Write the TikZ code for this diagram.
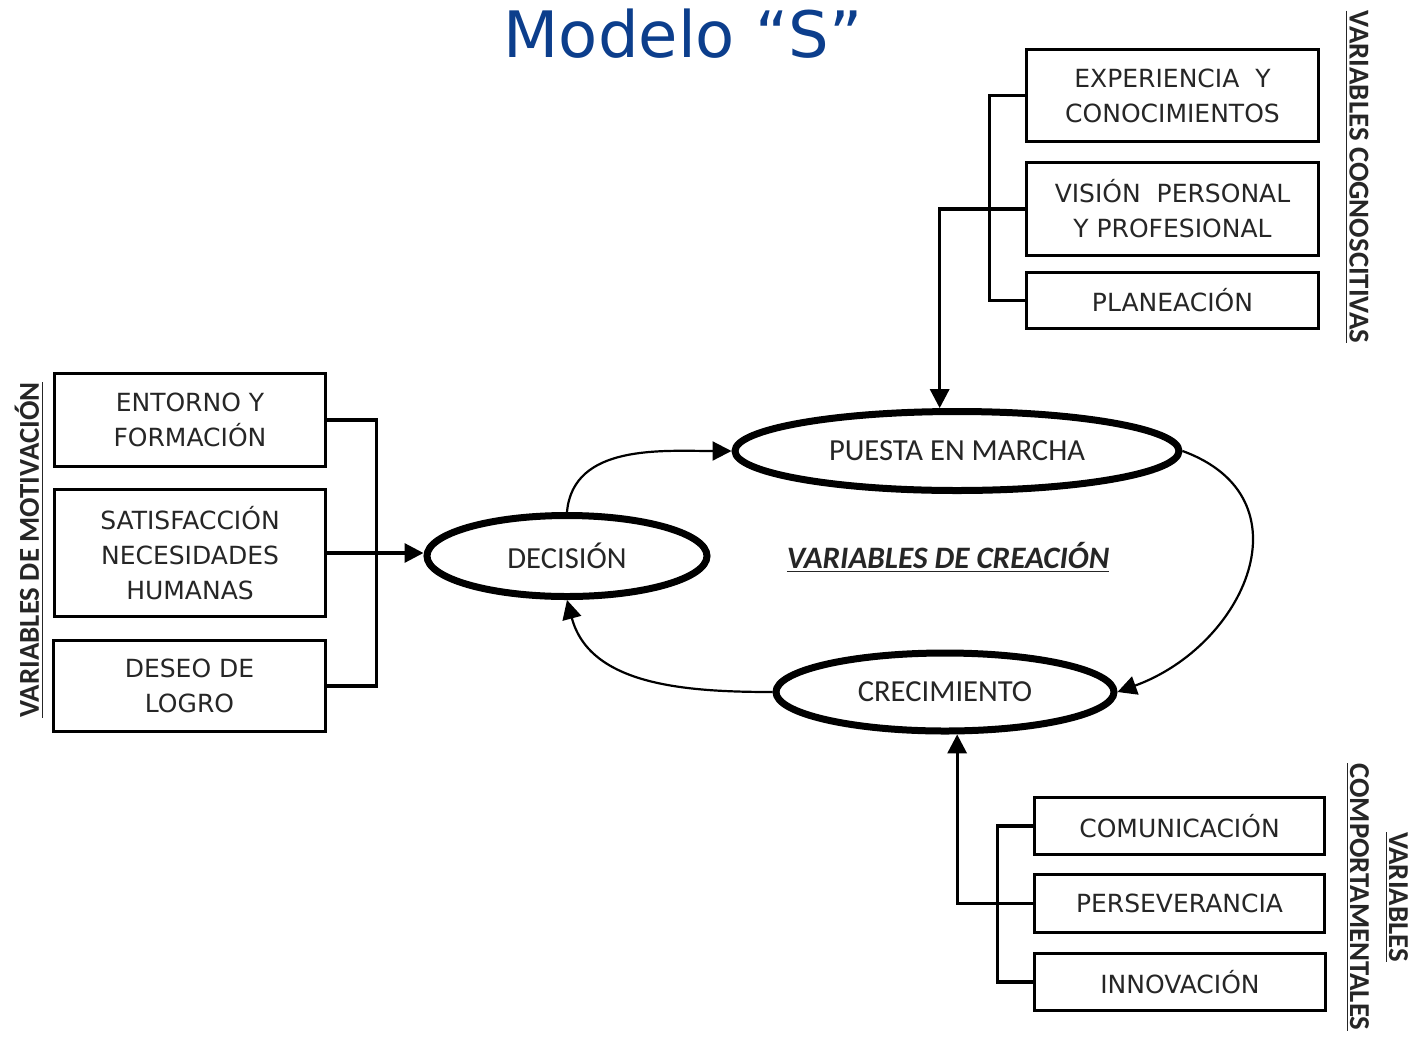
\documentclass[tikz,border=0pt]{standalone}
\usepackage{fontspec}
\setmainfont{DejaVu Sans}
\newfontfamily\calfont{Carlito}
\usetikzlibrary{shapes.geometric,arrows.meta}
\definecolor{titleblue}{RGB}{12,62,140}

\begin{document}
\begin{tikzpicture}[x=0.5pt,y=0.5pt,
    bnode/.style={draw,line width=1.8pt,fill=white,align=center,text=black!85,inner sep=2pt,
      font=\fontsize{12.5pt}{17.5pt}\selectfont},
    enode/.style={draw,ellipse,line width=3.5pt,inner sep=0pt,text=black!85,
      font=\calfont\fontsize{15.3pt}{18pt}\selectfont},
    vlabel/.style={font=\calfont\bfseries\fontsize{14.4pt}{19.5pt}\selectfont,align=center,text=black!85},
    link/.style={line width=1.6pt},
    flow/.style={line width=1.1pt},
    arr/.style={-{Triangle[length=9.5pt,width=9.5pt]}}]
    \useasboundingbox (0,0) rectangle (1415,-1040);

    \node[font=\fontsize{32pt}{32pt}\selectfont,text=titleblue,anchor=base] (title) at (683,-57) {Modelo “S”};

    \node[bnode,minimum width=146pt,minimum height=46pt] (exp) at (1172.5,-95.5) {EXPERIENCIA\ \ Y\\CONOCIMIENTOS};
    \node[bnode,minimum width=146pt,minimum height=46.5pt] (vis) at (1172.5,-209) {VISIÓN\ \ PERSONAL\\Y PROFESIONAL};
    \node[bnode,minimum width=146pt,minimum height=28pt] (pla) at (1172.5,-300.5) {PLANEACIÓN};

    \node[bnode,minimum width=135.5pt,minimum height=46.5pt] (ent) at (190,-420) {ENTORNO Y\\FORMACIÓN};
    \node[bnode,minimum width=135.5pt,minimum height=63.5pt] (sat) at (190,-553) {SATISFACCIÓN\\NECESIDADES\\HUMANAS};
    \node[bnode,minimum width=136pt,minimum height=45.5pt] (des) at (189.5,-686) {DESEO DE\\LOGRO};

    \node[bnode,minimum width=145pt,minimum height=28.5pt] (com) at (1179.5,-826) {COMUNICACIÓN};
    \node[bnode,minimum width=145pt,minimum height=29pt] (per) at (1179.5,-903.5) {PERSEVERANCIA};
    \node[bnode,minimum width=145.5pt,minimum height=28.5pt] (inn) at (1180,-982) {INNOVACIÓN};

    \node[enode,minimum width=140pt,minimum height=40.5pt] (dec) at (567,-556) {DECISIÓN};
    \node[enode,minimum width=222pt,minimum height=39.5pt] (pm) at (957,-451) {PUESTA EN MARCHA};
    \node[enode,minimum width=169pt,minimum height=39pt] (cr) at (945,-692) {CRECIMIENTO};

    \node[font=\calfont\bfseries\itshape\fontsize{15.6pt}{18pt}\selectfont,text=black!85] (crea) at (948,-557) {\underline{VARIABLES DE CREACIÓN}};

    \node[vlabel,rotate=90] (mot) at (29,-550) {\underline{VARIABLES DE MOTIVACIÓN}};
    \node[vlabel,rotate=-90] (cog) at (1357,-177) {\underline{VARIABLES COGNOSCITIVAS}};
    \node[vlabel,rotate=-90] (comp) at (1377,-897) {\underline{VARIABLES}\\\underline{COMPORTAMENTALES}};

    \draw[link] (exp.west) -- ++(-35,0) |- (pla.west);
    \draw[link,arr] (vis.west) -| (pm.112);
    \draw[link] (ent.east) -- ++(49,0) |- (des.east);
    \draw[link,arr] (sat.east) -- (sat.east -| dec.west);
    \draw[link] (com.west) -- ++(-35,0) |- (inn.west);
    \draw[link,arr] (per.west) -| (cr.-74);

    \draw[flow,arr] (dec.north) to[out=85,in=180] (pm.west);
    \draw[flow,arr] (pm.east) to[out=-20,in=20,looseness=1.4] (cr.east);
    \draw[flow,arr] (cr.west) to[out=180,in=-75] (dec.south);
\end{tikzpicture}
\end{document}
